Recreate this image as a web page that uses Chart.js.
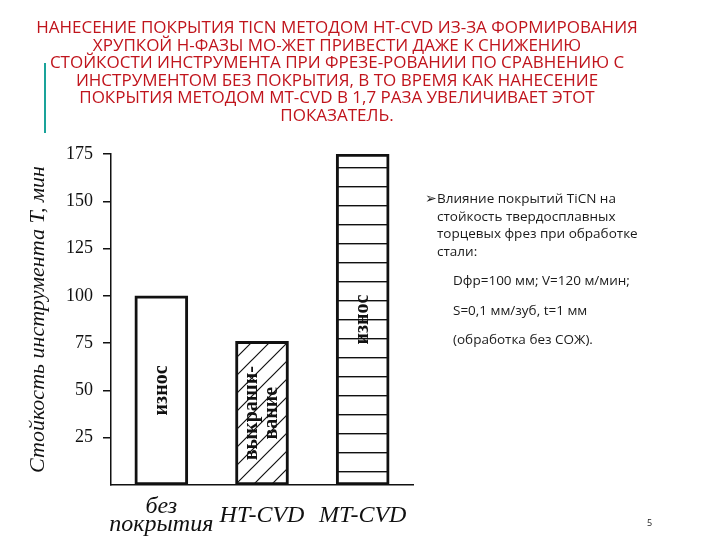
<!DOCTYPE html>
<html>
<head>
<meta charset="utf-8">
<script src="https://cdn.jsdelivr.net/npm/chart.js@4"></script>
<style>
  html, body { margin: 0; padding: 0; background: #fff; }
  body { width: 720px; height: 540px; position: relative; overflow: hidden; }
  #chart { position: absolute; left: 0; top: 0; }
  .title { position: absolute; left: 0; width: 674px; text-align: center;
           font-family: "Open Sans", sans-serif; font-size: 17px; color: #c0141c;
           line-height: 17.5px; top: 18px; }
  .bar-left { position: absolute; left: 44px; top: 63px; width: 2px; height: 70px; background: #1aa39a; }
  .note { position: absolute; left: 425px; top: 190px; font-family: "Open Sans", sans-serif;
          font-size: 13.5px; line-height: 17.5px; color: #1a1a1a; }
  .note .cont { padding-left: 12px; }
  .note .p { padding-left: 28px; margin-top: 12px; }
  .pnum { position: absolute; left: 647px; top: 516px; font-family: "Open Sans", sans-serif;
          font-size: 9px; color: #222; }
</style>
</head>
<body>
<canvas id="chart" width="720" height="540"></canvas>
<div class="title">
  НАНЕСЕНИЕ ПОКРЫТИЯ TICN МЕТОДОМ HT-CVD ИЗ-ЗА ФОРМИРОВАНИЯ<br>
  ХРУПКОЙ Η-ФАЗЫ МО-ЖЕТ ПРИВЕСТИ ДАЖЕ К СНИЖЕНИЮ<br>
  СТОЙКОСТИ ИНСТРУМЕНТА ПРИ ФРЕЗЕ-РОВАНИИ ПО СРАВНЕНИЮ С<br>
  ИНСТРУМЕНТОМ БЕЗ ПОКРЫТИЯ, В ТО ВРЕМЯ КАК НАНЕСЕНИЕ<br>
  ПОКРЫТИЯ МЕТОДОМ MT-CVD В 1,7 РАЗА УВЕЛИЧИВАЕТ ЭТОТ<br>
  ПОКАЗАТЕЛЬ.
</div>
<div class="bar-left"></div>
<div class="note">
  <div>&#10146;Влияние покрытий TiCN на</div>
  <div class="cont">стойкость твердосплавных</div>
  <div class="cont">торцевых фрез при обработке</div>
  <div class="cont">стали:</div>
  <div class="p">Dфр=100 мм; V=120 м/мин;</div>
  <div class="p">S=0,1 мм/зуб, t=1 мм</div>
  <div class="p">(обработка без СОЖ).</div>
</div>
<div class="pnum">5</div>

<script>
// data
const categories = [['без', 'покрытия'], 'HT-CVD', 'MT-CVD'];
const lifeMinutes = [100, 76, 175];
const barNotes = [['износ'], ['выкраши-', 'вание'], ['износ']];
const yTicks = [25, 50, 75, 100, 125, 150, 175];

// fill patterns
function hatchPattern(ctx) {
  const c = document.createElement('canvas');
  c.width = 18; c.height = 18;
  const g = c.getContext('2d');
  g.fillStyle = '#fff';
  g.fillRect(0, 0, 18, 18);
  g.strokeStyle = '#111';
  g.lineWidth = 1.2;
  g.beginPath();
  g.moveTo(-2, 20); g.lineTo(20, -2);
  g.moveTo(16, 20); g.lineTo(20, 16);
  g.moveTo(-2, 2); g.lineTo(2, -2);
  g.stroke();
  return ctx.createPattern(c, 'repeat');
}

function stripePattern(ctx) {
  const c = document.createElement('canvas');
  c.width = 4; c.height = 19;
  const g = c.getContext('2d');
  g.fillStyle = '#fff';
  g.fillRect(0, 0, 4, 19);
  g.fillStyle = '#111';
  g.fillRect(0, 15, 4, 1.4);
  return ctx.createPattern(c, 'repeat');
}

const ctx = document.getElementById('chart').getContext('2d');

const barText = {
  id: 'barText',
  afterDatasetsDraw(chart) {
    const c = chart.ctx;
    const meta = chart.getDatasetMeta(0);
    c.save();
    c.fillStyle = '#111';
    c.font = 'bold 20px "Liberation Serif", serif';
    c.textAlign = 'center';
    c.textBaseline = 'middle';
    meta.data.forEach((bar, i) => {
      const lines = barNotes[i];
      const cy = (bar.y + bar.base) / 2;
      c.save();
      c.translate(bar.x, cy);
      c.rotate(-Math.PI / 2);
      lines.forEach((t, k) => {
        c.fillText(t, 0, (k - (lines.length - 1) / 2) * 20);
      });
      c.restore();
    });
    c.restore();
  }
};

new Chart(ctx, {
  type: 'bar',
  data: {
    labels: categories,
    datasets: [{
      data: lifeMinutes,
      backgroundColor: ['#fff', hatchPattern(ctx), stripePattern(ctx)],
      borderColor: '#111',
      borderWidth: 3,
      borderSkipped: false,
      barThickness: 53
    }]
  },
  options: {
    responsive: false,
    animation: false,
    events: [],
    layout: { padding: { top: 154, right: 307, left: 0, bottom: 0 } },
    plugins: { legend: { display: false }, tooltip: { enabled: false } },
    scales: {
      x: {
        grid: { display: false, drawTicks: false },
        border: { color: '#111', width: 1.5 },
        ticks: {
          color: '#111',
          padding: 22,
          autoSkip: false,
          crossAlign: 'center',
          maxRotation: 0,
          font: { family: '"Liberation Serif", serif', style: 'italic', size: 24, lineHeight: 0.75 }
        },
        afterFit: s => { s.height = 55; }
      },
      y: {
        min: 0,
        max: 175,
        afterBuildTicks: s => { s.ticks = yTicks.map(v => ({ value: v })); },
        grid: { drawOnChartArea: false, color: '#111', lineWidth: 1.5, tickLength: 8 },
        border: { color: '#111', width: 1.5 },
        ticks: {
          color: '#111',
          padding: 10,
          font: { family: '"Liberation Serif", serif', size: 18 }
        },
        title: {
          display: true,
          text: 'Стойкость инструмента T, мин',
          color: '#111',
          padding: { top: 25, bottom: 0 },
          font: { family: '"Liberation Serif", serif', style: 'italic', size: 22 }
        },
        afterFit: s => { s.width = 111; }
      }
    }
  },
  plugins: [barText]
});
</script>
</body>
</html>
